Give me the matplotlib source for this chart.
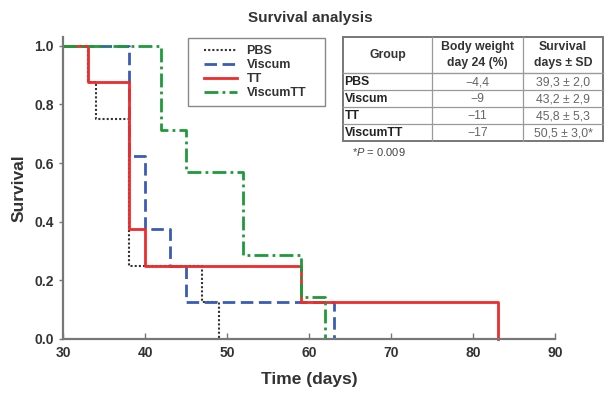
import matplotlib
matplotlib.use("Agg")
import matplotlib.pyplot as plt
from matplotlib.patches import Rectangle

plt.rcParams['font.family'] = ['Liberation Sans', 'DejaVu Sans']
plt.rcParams['mathtext.fontset'] = 'custom'
plt.rcParams['mathtext.it'] = 'Liberation Sans:italic'
plt.rcParams['mathtext.rm'] = 'Liberation Sans'

# ---- data ----
groups = ["PBS", "Viscum", "TT", "ViscumTT"]
pbs_t = [30, 33, 34, 38, 47, 49]
pbs_s = [1.0, 0.875, 0.75, 0.25, 0.125, 0.0]
viscum_t = [30, 38, 40, 43, 45, 63]
viscum_s = [1.0, 0.625, 0.375, 0.25, 0.125, 0.0]
tt_t = [30, 33, 38, 40, 59, 83]
tt_s = [1.0, 0.875, 0.375, 0.25, 0.125, 0.0]
vtt_t = [30, 42, 45, 52, 59, 62]
vtt_s = [1.0, 0.714, 0.571, 0.286, 0.143, 0.0]

x_ticks = [30, 40, 50, 60, 70, 80, 90]
y_ticks = [0.0, 0.2, 0.4, 0.6, 0.8, 1.0]

table_header = ["Group", "Body weight\nday 24 (%)", "Survival\ndays ± SD"]
body_weight = ["−4,4", "−9", "−11", "−17"]
survival_days = ["39,3 ± 2,0", "43,2 ± 2,9", "45,8 ± 5,3", "50,5 ± 3,0*"]

series = [
    (pbs_t, pbs_s, dict(color='#333333', ls=(0, (1, 1)), lw=1.5)),
    (viscum_t, viscum_s, dict(color='#3a5cb6', ls=(0, (4.5, 2)), lw=2.0)),
    (tt_t, tt_s, dict(color='#ef2b2b', ls='-', lw=2.0)),
    (vtt_t, vtt_s, dict(color='#1f9a3a', ls=(0, (5, 1.5, 1, 1.5)), lw=2.0)),
]

W, H = 610, 393
fig = plt.figure(figsize=(W/100, H/100), dpi=100)
ax = fig.add_axes([63/W, 1-339/H, 492/W, 302/H])

for (t, s, st), name in zip(series, groups):
    ax.plot(t, s, drawstyle='steps-post', label=name, clip_on=False, **st)

ax.set_xlim(30, 90)
ax.set_ylim(0, 1.03)
ax.set_xticks(x_ticks)
ax.set_yticks(y_ticks)
ax.set_xticklabels([str(v) for v in x_ticks], fontweight='bold', fontsize=10, color='#333333')
ax.set_yticklabels([f"{v:.1f}" for v in y_ticks], fontweight='bold', fontsize=10, color='#333333')
ax.tick_params(axis='x', direction='in', length=4, color='#777777', width=1, pad=5)
ax.tick_params(axis='y', direction='out', length=3, color='#777777', width=1)
for sp in ['top', 'right']:
    ax.spines[sp].set_visible(False)
for sp in ['left', 'bottom']:
    ax.spines[sp].set_color('#777777')
    ax.spines[sp].set_linewidth(1.6)

ax.set_xlabel("Time (days)", fontweight='bold', fontsize=12.5, color='#333333', labelpad=9)
ax.set_ylabel("Survival", fontweight='bold', fontsize=12.5, color='#333333', labelpad=6)
fig.text(310/W, 1-18/H, "Survival analysis", ha='center', va='center',
         fontweight='bold', fontsize=11, color='#333333')

# legend (frame drawn separately)
def ax_frac(px, py):
    return ((px-63)/492, (339-py)/302)

lx, ly = ax_frac(204, 45)
leg = ax.legend(loc='upper left', bbox_to_anchor=(lx, ly),
                frameon=False, handlelength=2.6,
                prop={'weight': 'bold', 'size': 9}, borderpad=0, labelspacing=0.17,
                handletextpad=0.8, borderaxespad=0)
for txt in leg.get_texts():
    txt.set_color('#333333')
bx0, by0 = ax_frac(188, 106)
bx1, by1 = ax_frac(325, 38)
ax.add_patch(Rectangle((bx0, by0), bx1-bx0, by1-by0, transform=ax.transAxes,
                       fill=False, edgecolor='#888888', lw=1.0, clip_on=False, zorder=5))

# ---- table ----
tx0, ty0, tx1 = 343, 37, 603
col_x = [0, 89, 180, tx1-tx0]
header_h = 36
row_h = 17
th = header_h + row_h*len(groups)
tw = col_x[-1]
tax = fig.add_axes([tx0/W, 1-(ty0+th)/H, tw/W, th/H])
tax.set_xlim(0, tw)
tax.set_ylim(th, 0)
tax.axis('off')
rows = list(zip(groups, body_weight, survival_days))
edge = '#999999'
fs = 8.8
for j, h in enumerate(table_header):
    tax.text((col_x[j]+col_x[j+1])/2, header_h/2, h, ha='center', va='center',
             fontweight='bold', fontsize=fs, color='#333333', linespacing=1.5)
for i, (g, bw, sd) in enumerate(rows):
    yc = header_h + row_h*i + row_h/2 + 0.5
    tax.text(1.5, yc, g, ha='left', va='center', fontweight='bold', fontsize=fs, color='#222222')
    tax.text((col_x[1]+col_x[2])/2, yc, bw, ha='center', va='center', fontsize=fs, color='#666666')
    tax.text((col_x[2]+col_x[3])/2, yc, sd, ha='center', va='center', fontsize=fs, color='#666666')
for k in range(len(rows)):
    y = header_h + row_h*k
    tax.plot([0, tw], [y, y], color=edge, lw=0.9 if k else 1.0, clip_on=False)
for xx in col_x[1:-1]:
    tax.plot([xx, xx], [0, th], color=edge, lw=0.9, clip_on=False)
tax.add_patch(Rectangle((0, 0), tw, th, fill=False, edgecolor='#777777', lw=1.4, clip_on=False))

fig.text(352/W, 1-152/H, "*$P$ = 0.009", ha='left', va='center', fontsize=8, color='#444444')

fig.savefig("out.png", dpi=100)
